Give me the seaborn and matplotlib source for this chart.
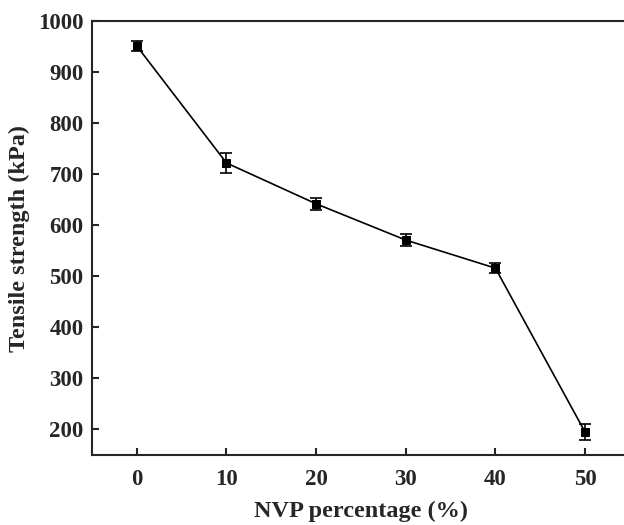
import numpy as np
import pandas as pd
import seaborn as sns
from matplotlib import pyplot as plt

# data
nvp = [0, 10, 20, 30, 40, 50]
strength = [951, 722, 642, 571, 516, 195]
err = [10, 20, 12, 12, 10, 15]

df = pd.DataFrame({"nvp": nvp, "strength": strength, "err": err})

sns.set_style("ticks")
plt.rcParams["font.family"] = ["Liberation Serif", "DejaVu Serif"]
plt.rcParams["font.weight"] = "bold"
plt.rcParams["axes.labelweight"] = "bold"
plt.rcParams["xtick.direction"] = "in"
plt.rcParams["ytick.direction"] = "in"

fig = plt.figure(figsize=(6.24, 5.25), dpi=100)
ax = fig.add_axes([0.1474, 0.1333, 0.862, 0.8267])

ax.errorbar(df["nvp"], df["strength"], yerr=df["err"], fmt="none",
            ecolor="black", elinewidth=1.2, capsize=4, capthick=1.2, zorder=3)
sns.lineplot(data=df, x="nvp", y="strength", marker="s", markersize=6,
             color="black", linewidth=1.2, markeredgecolor="black", ax=ax)

ax.set_xlim(-5, 55)
ax.set_ylim(150, 1000)
ax.set_xticks(nvp)
ax.set_yticks(range(200, 1001, 100))
ax.tick_params(labelsize=16.5, width=1.5, length=5)
ax.tick_params(axis="x", pad=10)
ax.tick_params(axis="y", pad=6)
for s in ax.spines.values():
    s.set_linewidth(1.5)

ax.set_xlabel("NVP percentage (%)", fontsize=17.5, labelpad=8)
ax.set_ylabel("Tensile strength (kPa)", fontsize=17.5, labelpad=6)

plt.savefig("out.png", dpi=100)
